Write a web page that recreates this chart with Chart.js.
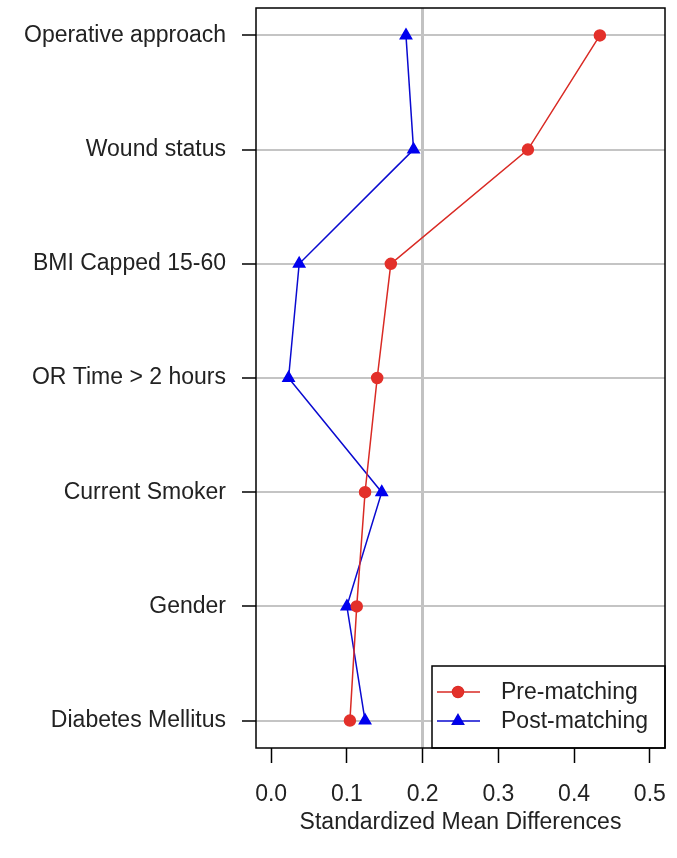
<!DOCTYPE html>
<html>
<head>
<meta charset="utf-8">
<title>Standardized Mean Differences</title>
<script src="https://cdn.jsdelivr.net/npm/chart.js@4/dist/chart.umd.min.js"></script>
<style>
  body { margin: 0; background: #fff; }
  canvas { display: block; }
</style>
</head>
<body>
<canvas id="chartSmd" width="677" height="858"></canvas>
<script>
// covariates, top to bottom
const covariates = [
    "Operative approach",
    "Wound status",
    "BMI Capped 15-60",
    "OR Time > 2 hours",
    "Current Smoker",
    "Gender",
    "Diabetes Mellitus",
];
const preMatching = [0.434, 0.339, 0.158, 0.140, 0.124, 0.113, 0.104];
const postMatching = [0.178, 0.188, 0.037, 0.023, 0.146, 0.100, 0.124];
const xTicks = [0.0, 0.1, 0.2, 0.3, 0.4, 0.5];
const threshold = 0.2;

const FONT = "'Liberation Sans', Arial, sans-serif";
const n = covariates.length;

function toPoints(values) {
    return values.map((v, i) => ({ x: v, y: n - i }));
}

// box round the plot + legend inside the lower right corner
const boxAndLegend = {
    id: "boxAndLegend",
    afterDatasetsDraw(chart) {
        const ctx = chart.ctx;
        const a = chart.chartArea;
        ctx.save();

        const w = 233, h = 82;
        const lx = a.right - w, ly = a.bottom - h;
        ctx.fillStyle = "#fff";
        ctx.fillRect(lx, ly, w, h);
        ctx.strokeStyle = "#000";
        ctx.lineWidth = 1.5;
        ctx.strokeRect(lx, ly, w, h);

        ctx.font = "23px " + FONT;
        ctx.textBaseline = "middle";
        chart.data.datasets.forEach((ds, i) => {
            const y = ly + 26 + i * 29;
            ctx.strokeStyle = ds.borderColor;
            ctx.lineWidth = 1.5;
            ctx.beginPath();
            ctx.moveTo(lx + 5, y);
            ctx.lineTo(lx + 48, y);
            ctx.stroke();
            Chart.helpers.drawPoint(ctx, {
                pointStyle: ds.pointStyle,
                radius: ds.pointRadius,
                borderWidth: 1,
            }, lx + 26, y);
            ctx.fillStyle = ds.pointBackgroundColor;
            ctx.fill();
            ctx.fillStyle = "#222";
            ctx.fillText(ds.label, lx + 69, y + 1);
        });

        ctx.strokeStyle = "#000";
        ctx.lineWidth = 1.5;
        ctx.strokeRect(a.left, a.top, a.right - a.left, a.bottom - a.top);
        ctx.restore();
    },
};

const dataSmd = {
    datasets: [{
        label: "Pre-matching",
        data: toPoints(preMatching),
        showLine: true,
        borderColor: "#d92a24",
        backgroundColor: "#e3302a",
        pointBackgroundColor: "#e3302a",
        pointBorderColor: "#e3302a",
        pointStyle: "circle",
        pointRadius: 5.5,
        borderWidth: 1.5,
    }, {
        label: "Post-matching",
        data: toPoints(postMatching),
        showLine: true,
        borderColor: "#0a0ad0",
        backgroundColor: "#0000ee",
        pointBackgroundColor: "#0000ee",
        pointBorderColor: "#0000ee",
        pointStyle: "triangle",
        pointRadius: 6.5,
        borderWidth: 1.5,
    }],
};

const configSmd = {
    type: "scatter",
    data: dataSmd,
    options: {
        responsive: false,
        animation: false,
        devicePixelRatio: 1,
        layout: { padding: { top: 8, right: 12, left: 0, bottom: 0 } },
        plugins: {
            legend: { display: false },
            tooltip: { enabled: false },
        },
        scales: {
            x: {
                type: "linear",
                min: -0.02,
                max: 0.52,
                afterBuildTicks: (scale) => {
                    scale.ticks = xTicks.map(v => ({ value: v }));
                },
                afterFit: (scale) => {
                    scale.height = 110;
                    scale.paddingLeft = 0;
                    scale.paddingRight = 0;
                },
                border: { display: false },
                grid: {
                    color: (c) => (c.tick && Math.abs(c.tick.value - threshold) < 1e-9) ? "#c2c2c2" : "rgba(0,0,0,0)",
                    lineWidth: (c) => (c.tick && Math.abs(c.tick.value - threshold) < 1e-9) ? 3 : 1,
                    tickColor: "#000",
                    tickWidth: 1.5,
                    tickLength: 15,
                },
                ticks: {
                    color: "#222",
                    font: { family: FONT, size: 23 },
                    padding: 18,
                    maxRotation: 0,
                    callback: (v) => Number(v).toFixed(1),
                },
                title: {
                    display: true,
                    text: "Standardized Mean Differences",
                    color: "#222",
                    font: { family: FONT, size: 23 },
                    padding: { top: 4, bottom: 22 },
                },
            },
            y: {
                type: "linear",
                min: 1 - 0.24,
                max: n + 0.24,
                afterBuildTicks: (scale) => {
                    scale.ticks = covariates.map((c, i) => ({ value: n - i }));
                },
                afterFit: (scale) => {
                    scale.width = 256;
                    scale.paddingTop = 0;
                    scale.paddingBottom = 0;
                },
                border: { display: false },
                grid: {
                    color: "#c4c4c4",
                    lineWidth: 2,
                    tickColor: "#000",
                    tickWidth: 1.5,
                    tickLength: 14,
                },
                ticks: {
                    color: "#222",
                    font: { family: FONT, size: 23 },
                    padding: 16,
                    callback: (v) => covariates[n - v],
                },
            },
        },
    },
    plugins: [boxAndLegend],
};

var chartSmd = new Chart(
    document.getElementById("chartSmd"),
    configSmd
);
</script>
</body>
</html>
